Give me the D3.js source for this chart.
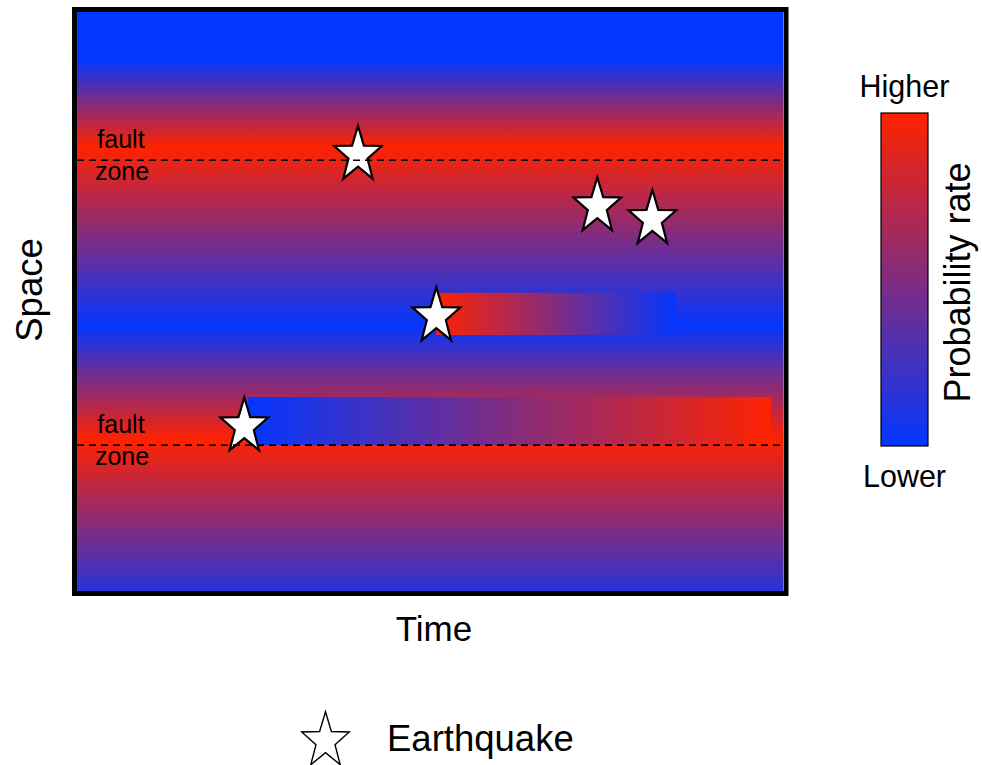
<!DOCTYPE html>
<html>
<head>
<meta charset="utf-8">
<script src="https://cdn.jsdelivr.net/npm/d3@7"></script>
<style>
  html, body { margin: 0; padding: 0; background: #fff; }
  svg { display: block; }
  text { font-family: "Liberation Sans", Arial, Helvetica, sans-serif; fill: #000; }
</style>
</head>
<body>
<script>
// ---------- data ----------
// background probability-rate profile along space (0 = bottom, 100 = top)
const spaceStops = [100, 91.7, 76.7, 45.9, 26.1, 0];
const rateStops  = [0,   0,    1,    0,    1,    0.15];
// fault zones (space values)
const faultZones = [74.4, 25.2];
const faultLabelTop = "fault";
const faultLabelBottom = "zone";
// earthquakes (time, space)
const quakeTime  = [39.8, 73.7, 81.5, 50.9, 23.7];
const quakeSpace = [75.3, 66.4, 64.2, 47.4, 28.4];
// post-event rate trajectories (bars)
const trendStart     = [50.9, 24.2];
const trendEnd       = [84.8, 98.3];
const trendSpaceLow  = [44.2, 25.2];
const trendSpaceHigh = [51.5, 33.5];
const trendRateStart = [1, 0];
const trendRateEnd   = [0, 1];
// colour bar
const colorbarRates = [0, 1];
const colorbarLabels = ["Lower", "Higher"];
const colorbarTitle = "Probability rate";
const xTitle = "Time";
const yTitle = "Space";
const legendLabel = "Earthquake";

// ---------- setup ----------
const W = 982, H = 765;
const svg = d3.select("body").append("svg").attr("width", W).attr("height", H);
const defs = svg.append("defs");

const inner = { x0: 77, x1: 783, y0: 12, y1: 591 };
const x = d3.scaleLinear().domain([0, 100]).range([inner.x0, inner.x1]);
const y = d3.scaleLinear().domain([0, 100]).range([inner.y1, inner.y0]);
const color = d3.scaleLinear().domain([0, 1]).range(["#0336ff", "#ff2200"]).interpolate(d3.interpolateRgb);

// background gradient
const bg = defs.append("linearGradient").attr("id", "bgGrad")
  .attr("gradientUnits", "userSpaceOnUse")
  .attr("x1", 0).attr("x2", 0).attr("y1", y(100)).attr("y2", y(0));
const bgStops = spaceStops.map((s, i) => ({ s, r: rateStops[i] })).sort((a, b) => y(a.s) - y(b.s));
bg.selectAll("stop").data(bgStops).join("stop")
  .attr("offset", d => (y(d.s) - y(100)) / (y(0) - y(100)))
  .attr("stop-color", d => color(d.r));

svg.append("rect")
  .attr("x", x(0)).attr("y", y(100))
  .attr("width", x(100) - x(0)).attr("height", y(0) - y(100))
  .attr("fill", "url(#bgGrad)");

// trend bars
const trends = trendStart.map((t, i) => ({
  t0: t, t1: trendEnd[i], s0: trendSpaceLow[i], s1: trendSpaceHigh[i],
  r0: trendRateStart[i], r1: trendRateEnd[i]
}));
trends.forEach((d, i) => {
  const g = defs.append("linearGradient").attr("id", "tg" + i)
    .attr("x1", 0).attr("x2", 1).attr("y1", 0).attr("y2", 0);
  g.append("stop").attr("offset", 0).attr("stop-color", color(d.r0));
  g.append("stop").attr("offset", 1).attr("stop-color", color(d.r1));
});
svg.selectAll("rect.trend").data(trends).join("rect").attr("class", "trend")
  .attr("x", d => x(d.t0)).attr("y", d => y(d.s1))
  .attr("width", d => x(d.t1) - x(d.t0)).attr("height", d => y(d.s0) - y(d.s1))
  .attr("fill", (d, i) => `url(#tg${i})`);

// star shape
function starPath(R, sy) {
  const pts = d3.range(10).map(i => {
    const a = -Math.PI / 2 + i * Math.PI / 5;
    const r = i % 2 === 0 ? R : R * 0.4;
    return [r * Math.cos(a), r * Math.sin(a) * sy];
  });
  return d3.line()(pts) + "Z";
}
const SR = 25, SY = 1.17;

// earthquakes
const quakes = quakeTime.map((t, i) => ({ t, s: quakeSpace[i] }));
svg.selectAll("path.quake").data(quakes).join("path").attr("class", "quake")
  .attr("d", starPath(SR, SY))
  .attr("transform", d => `translate(${x(d.t)},${y(d.s)})`)
  .attr("fill", "#fff").attr("stroke", "#000").attr("stroke-width", 2.2)
  .attr("stroke-linejoin", "miter");

// fault zones
svg.selectAll("line.fault").data(faultZones).join("line").attr("class", "fault")
  .attr("x1", x(0)).attr("x2", x(100))
  .attr("y1", d => y(d)).attr("y2", d => y(d))
  .attr("stroke", "#000").attr("stroke-width", 1.6).attr("stroke-dasharray", "7,5");
svg.selectAll("text.faultTop").data(faultZones).join("text").attr("class", "faultTop")
  .attr("x", 121).attr("y", d => y(d) - 12)
  .attr("text-anchor", "middle").attr("font-size", 25).text(faultLabelTop);
svg.selectAll("text.faultBot").data(faultZones).join("text").attr("class", "faultBot")
  .attr("x", 122).attr("y", d => y(d) + 20)
  .attr("text-anchor", "middle").attr("font-size", 25).text(faultLabelBottom);

// frame
svg.append("rect")
  .attr("x", 74.5).attr("y", 9.5).attr("width", 711.5).attr("height", 584)
  .attr("fill", "none").attr("stroke", "#000").attr("stroke-width", 5);

// axis titles
svg.append("text").attr("x", 434).attr("y", 641).attr("text-anchor", "middle")
  .attr("font-size", 35).text(xTitle);
svg.append("text").attr("transform", "translate(42,290) rotate(-90)")
  .attr("text-anchor", "middle").attr("font-size", 36.5).text(yTitle);

// colour bar
const cb = { x: 881, w: 47, top: 113, bottom: 446 };
const cbScale = d3.scaleLinear().domain([0, 1]).range([cb.bottom, cb.top]);
const cg = defs.append("linearGradient").attr("id", "cbGrad")
  .attr("gradientUnits", "userSpaceOnUse")
  .attr("x1", 0).attr("x2", 0).attr("y1", cbScale(0)).attr("y2", cbScale(1));
cg.selectAll("stop").data(colorbarRates).join("stop")
  .attr("offset", d => d).attr("stop-color", d => color(d));
svg.append("rect")
  .attr("x", cb.x).attr("y", cb.top).attr("width", cb.w).attr("height", cb.bottom - cb.top)
  .attr("fill", "url(#cbGrad)").attr("stroke", "#000").attr("stroke-width", 1.2);
svg.append("text").attr("x", cb.x + cb.w / 2).attr("y", cbScale(1) - 16)
  .attr("text-anchor", "middle").attr("font-size", 30.5).text(colorbarLabels[1]);
svg.append("text").attr("x", cb.x + cb.w / 2).attr("y", cbScale(0) + 41)
  .attr("text-anchor", "middle").attr("font-size", 30.5).text(colorbarLabels[0]);
svg.append("text").attr("transform", `translate(970,${(cb.top + cb.bottom) / 2 + 3}) rotate(-90)`)
  .attr("text-anchor", "middle").attr("font-size", 36).text(colorbarTitle);

// legend
svg.append("path").attr("d", starPath(SR, SY))
  .attr("transform", "translate(325.5,741)")
  .attr("fill", "#fff").attr("stroke", "#000").attr("stroke-width", 1.4);
svg.append("text").attr("x", 387).attr("y", 751).attr("font-size", 36.5).text(legendLabel);
</script>
</body>
</html>
